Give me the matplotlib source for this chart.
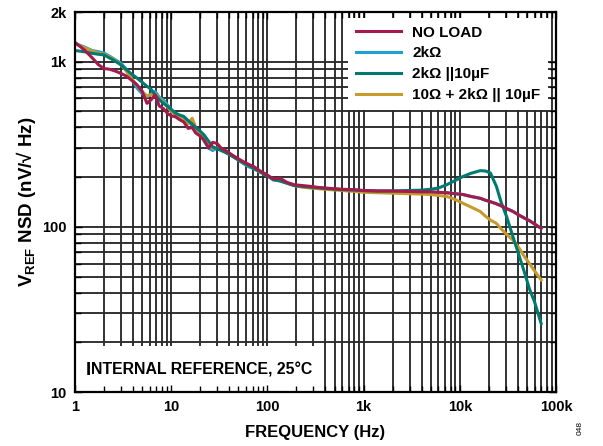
# ------------------------------------------------------------------------------
# -------------------------------------------------------------- IMPORT PACKAGES
import matplotlib as mpl
mpl.use('Agg')
import matplotlib.pyplot as plt
from matplotlib.offsetbox import TextArea, HPacker, AnchoredOffsetbox
from matplotlib.patches import Rectangle
import numpy as np

plt.rcParams['font.family'] = ['Liberation Sans', 'DejaVu Sans']
plt.rcParams['font.weight'] = 'bold'
plt.rcParams['mathtext.fontset'] = 'custom'
plt.rcParams['mathtext.rm'] = 'Liberation Sans:bold'
plt.rcParams['mathtext.bf'] = 'Liberation Sans:bold'

# ------------------------------------------------------------------------- DATA
freq = [1, 1.25, 1.5, 1.75, 2, 2.3, 2.6, 3, 3.4, 3.8, 4.4, 5, 5.6, 6.2, 6.8,
        7.5, 8.3, 9.2, 10, 11, 12.3, 13.5, 15, 16.5, 18, 20, 22, 24.5, 27, 30,
        33, 37, 42, 48, 55, 63, 72, 84, 100, 115, 135, 160, 190, 230, 280, 350,
        450, 600, 800, 1000, 1400, 2000, 2800, 4000, 5000, 6000, 7300, 8800,
        10800, 13000, 16300, 18500, 20800, 24000, 27000, 30700, 35700, 41000,
        47000, 53000, 60000, 70000]

no_load = [1310, 1180, 1060, 960, 910, 900, 880, 850, 820, 780, 726, 660, 560,
           590, 630, 540, 520, 485, 470, 465, 445, 432, 395, 400, 370, 355, 335,
           300, 325, 320, 300, 290, 275, 262, 250, 240, 232, 218, 206, 195, 197,
           186, 180, 178, 176, 173, 171, 169, 168, 166, 165, 165, 164, 163, 163,
           162, 161, 159, 157, 153, 149, 145, 142, 138, 134, 129, 124, 118, 113,
           109, 104, 98]

load_2k = [1290, 1230, 1170, 1150, 1129, 1080, 1030, 982, 900, 810, 693, 640,
           616, 640, 661, 610, 588, 545, 512, 490, 465, 450, 440, 410, 390, 370,
           330, 300, 290, 300, 292, 282, 272, 258, 244, 232, 225, 214, 205, 192,
           190, 184, 178, 175, 173, 172, 170, 168, 167, 165, 164, 164, 163, 163,
           162, 162, 161, 159, 157, 153, 149, 145, 142, 138, 134, 129, 124, 118,
           113, 109, 104, 98]

load_2k_10u = [1170, 1150, 1125, 1110, 1100, 1052, 1010, 959, 900, 850, 797,
               750, 710, 680, 630, 590, 560, 535, 515, 490, 475, 467, 440, 420,
               400, 380, 360, 330, 305, 298, 290, 282, 270, 258, 246, 236, 226,
               216, 203, 194, 190, 184, 178, 176, 174, 172, 170, 168, 167, 166,
               165, 165, 166, 167, 169, 172, 180, 190, 202, 211, 219, 218, 212,
               176, 140, 115, 87, 68, 53, 42, 35, 26]

load_10r = [1280, 1220, 1160, 1130, 1110, 1070, 1020, 960, 880, 800, 720, 660,
            620, 630, 640, 600, 570, 530, 500, 480, 460, 440, 420, 455, 400,
            360, 340, 310, 300, 300, 292, 282, 272, 258, 246, 236, 226, 215,
            204, 194, 190, 184, 178, 174, 172, 170, 168, 166, 164, 162, 161,
            160, 159, 158, 157, 155, 153, 147, 139, 132, 124, 116, 110, 105, 97,
            90, 83, 75, 66, 60, 54, 47.7]

labels = ['NO LOAD', '2k\u03a9', '2k\u03a9 ||10\u00b5F', '10\u03a9 + 2k\u03a9 || 10\u00b5F']
colors = ['#a31a4c', '#1ba1d6', '#007a70', '#c79a2e']

xticks = [1, 10, 100, 1e3, 1e4, 1e5]
xticklabels = ['1', '10', '100', '1k', '10k', '100k']
yticks = [10, 100, 1000, 2000]
yticklabels = ['10', '100', '1k', '2k']

# ------------------------------------------------------------------------- PLOT
fig = plt.figure(figsize=(6.03, 4.46), dpi=100)
ax = fig.add_axes([0.1244, 0.121, 0.7977, 0.852])

ax.set_xscale('log')
ax.set_yscale('log')
ax.set_xlim(1, 1e5)
ax.set_ylim(10, 2000)

# grid drawn by hand so the white boxes can sit on top of it
gridc = '#2a2a2a'
for d in range(5):
	for k in range(1, 10):
		x = k * 10**d
		if x > 1:
			ax.axvline(x, color=gridc, lw=1.35, zorder=0.5)
for d in range(1, 4):
	for k in range(1, 10):
		y = k * 10**d
		if 10 < y < 2000:
			ax.axhline(y, color=gridc, lw=1.35, zorder=0.5)

# annotation box
ax.add_patch(Rectangle((0, 0), 0.505, 0.121, transform=ax.transAxes,
	facecolor='white', edgecolor='none', zorder=1))
t1 = TextArea('I', textprops=dict(size=13.5, weight='bold'))
t2 = TextArea('NTERNAL REFERENCE, 25\u00b0C', textprops=dict(size=11.4, weight='bold'))
box = HPacker(children=[t1, t2], align='baseline', pad=0, sep=0)
anch = AnchoredOffsetbox(loc='lower left', child=box, pad=0, frameon=False,
	bbox_to_anchor=(0.022, 0.035), bbox_transform=ax.transAxes, borderpad=0)
anch.set_zorder(3)
ax.add_artist(anch)

series = [no_load, load_2k, load_2k_10u, load_10r]
order = [1, 3, 2, 0]
handles = [None] * 4
for i in order:
	h, = ax.plot(freq, series[i], '-', color=colors[i], lw=2.2, zorder=2,
		solid_joinstyle='round', label=labels[i])
	handles[i] = h

leg = ax.legend(handles, labels, loc='upper right', bbox_to_anchor=(0.983, 0.984),
	borderaxespad=0, frameon=True, fancybox=False, framealpha=1,
	facecolor='white', edgecolor='none', prop=dict(size=11, weight='bold'),
	handlelength=2.95, handletextpad=0.75, labelspacing=0.44, borderpad=0.5)
leg.set_zorder(5)

ax.set_xticks(xticks)
ax.set_xticklabels(xticklabels)
ax.set_yticks(yticks)
ax.set_yticklabels(yticklabels)
ax.tick_params(which='both', direction='in', top=True, right=True,
	labelsize=10.5, width=1.0, color='black')
ax.tick_params(which='major', length=5, pad=6)
ax.tick_params(which='minor', length=4)
ax.xaxis.set_minor_formatter(mpl.ticker.NullFormatter())
ax.yaxis.set_minor_formatter(mpl.ticker.NullFormatter())

for s in ax.spines.values():
	s.set_linewidth(1.6)
	s.set_zorder(4)

ax.set_xlabel('FREQUENCY (Hz)', fontsize=12, weight='bold', labelpad=8)
ax.set_ylabel(r'$\mathbf{V_{REF}}$ NSD (nV/' + '\u221a' + ' Hz)', fontsize=13.5,
	weight='bold', labelpad=3)

fig.text(0.962, 0.04, '048', rotation=90, fontsize=6, weight='normal',
	ha='center', va='center')

fig.savefig('out.png', dpi=100)
plt.close()
# ------------------------------------------------------------------------------
